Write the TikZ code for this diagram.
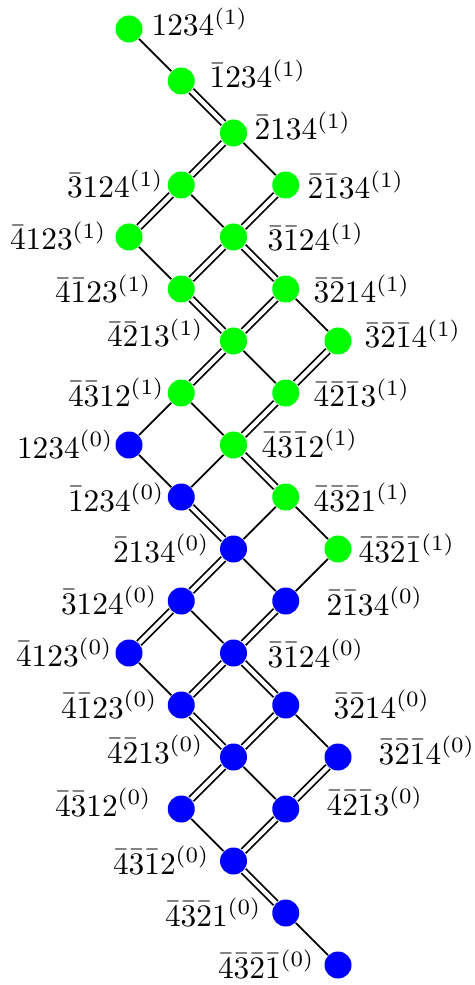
\documentclass[tikz,border=0pt]{standalone}
\newcommand{\lbl}[1]{\scalebox{1.045}{$#1$}}
\begin{document}
\begin{tikzpicture}[x=0.333333pt,y=-0.333333pt,
  gn/.style={circle,fill=green,minimum size=9pt,inner sep=0pt},
  bn/.style={circle,fill=blue,minimum size=9pt,inner sep=0pt},
  lw/.style={anchor=base west,inner sep=0pt},
  le/.style={anchor=base east,inner sep=0pt},
  one/.style={draw=black,line width=0.6pt},
  two/.style={draw=black,line width=0.6pt,double=white,double distance=1.4pt}]
\useasboundingbox (0,0) rectangle (474,985);
% nodes
\node[gn] (a1) at (129,29) {};
\node[gn] (a2) at (181.25,81) {};
\node[gn] (a3) at (233.5,133) {};
\node[gn] (a4) at (181.25,185) {};
\node[gn] (b4) at (285.75,185) {};
\node[gn] (a5) at (129,237) {};
\node[gn] (b5) at (233.5,237) {};
\node[gn] (a6) at (181.25,289) {};
\node[gn] (b6) at (285.75,289) {};
\node[gn] (a7) at (233.5,341) {};
\node[gn] (b7) at (338,341) {};
\node[gn] (a8) at (181.25,393) {};
\node[gn] (b8) at (285.75,393) {};
\node[bn] (z9) at (129,445) {};
\node[gn] (a9) at (233.5,445) {};
\node[bn] (z10) at (181.25,497) {};
\node[gn] (a10) at (285.75,497) {};
\node[bn] (z11) at (233.5,549) {};
\node[gn] (a11) at (338,549) {};
\node[bn] (z12) at (181.25,601) {};
\node[bn] (y12) at (285.75,601) {};
\node[bn] (z13) at (129,653) {};
\node[bn] (y13) at (233.5,653) {};
\node[bn] (z14) at (181.25,705) {};
\node[bn] (y14) at (285.75,705) {};
\node[bn] (z15) at (233.5,757) {};
\node[bn] (y15) at (338,757) {};
\node[bn] (z16) at (181.25,809) {};
\node[bn] (y16) at (285.75,809) {};
\node[bn] (z17) at (233.5,861) {};
\node[bn] (z18) at (285.75,913) {};
\node[bn] (z19) at (338,965) {};
% labels
\node[lw] (la1) at (151,36) {\lbl{1234^{(1)}}};
\node[lw] (la2) at (209,88) {\lbl{\bar{1}234^{(1)}}};
\node[lw] (la3) at (254,140) {\lbl{\bar{2}134^{(1)}}};
\node[le] (la4) at (164,198) {\lbl{\bar{3}124^{(1)}}};
\node[lw] (lb4) at (307,199) {\lbl{\bar{2}\bar{1}34^{(1)}}};
\node[le] (la5) at (107,250) {\lbl{\bar{4}123^{(1)}}};
\node[lw] (lb5) at (267,251) {\lbl{\bar{3}\bar{1}24^{(1)}}};
\node[le] (la6) at (152,303) {\lbl{\bar{4}\bar{1}23^{(1)}}};
\node[lw] (lb6) at (313,303) {\lbl{\bar{3}\bar{2}14^{(1)}}};
\node[le] (la7) at (204,347) {\lbl{\bar{4}\bar{2}13^{(1)}}};
\node[lw] (lb7) at (364,348) {\lbl{\bar{3}\bar{2}\bar{1}4^{(1)}}};
\node[le] (la8) at (165,406) {\lbl{\bar{4}\bar{3}12^{(1)}}};
\node[lw] (lb8) at (313,407) {\lbl{\bar{4}\bar{2}\bar{1}3^{(1)}}};
\node[le] (lz9) at (114,458) {\lbl{1234^{(0)}}};
\node[lw] (la9) at (261,457) {\lbl{\bar{4}\bar{3}\bar{1}2^{(1)}}};
\node[le] (lz10) at (165,511) {\lbl{\bar{1}234^{(0)}}};
\node[lw] (la10) at (313,511) {\lbl{\bar{4}\bar{3}\bar{2}1^{(1)}}};
\node[le] (lz11) at (210,562) {\lbl{\bar{2}134^{(0)}}};
\node[lw] (la11) at (358,562) {\lbl{\bar{4}\bar{3}\bar{2}\bar{1}^{(1)}}};
\node[le] (lz12) at (158,614) {\lbl{\bar{3}124^{(0)}}};
\node[lw] (ly12) at (326,615) {\lbl{\bar{2}\bar{1}34^{(0)}}};
\node[le] (lz13) at (113,666) {\lbl{\bar{4}123^{(0)}}};
\node[lw] (ly13) at (267,667) {\lbl{\bar{3}\bar{1}24^{(0)}}};
\node[le] (lz14) at (158,718) {\lbl{\bar{4}\bar{1}23^{(0)}}};
\node[lw] (ly14) at (333,718) {\lbl{\bar{3}\bar{2}14^{(0)}}};
\node[le] (lz15) at (204,763) {\lbl{\bar{4}\bar{2}13^{(0)}}};
\node[lw] (ly15) at (378,764) {\lbl{\bar{3}\bar{2}\bar{1}4^{(0)}}};
\node[le] (lz16) at (152,816) {\lbl{\bar{4}\bar{3}12^{(0)}}};
\node[lw] (ly16) at (326,815) {\lbl{\bar{4}\bar{2}\bar{1}3^{(0)}}};
\node[le] (lz17) at (210,874) {\lbl{\bar{4}\bar{3}\bar{1}2^{(0)}}};
\node[le] (lz18) at (262,926) {\lbl{\bar{4}\bar{3}\bar{2}1^{(0)}}};
\node[le] (lz19) at (315,978) {\lbl{\bar{4}\bar{3}\bar{2}\bar{1}^{(0)}}};
% single edges
\foreach \p/\q in {a1/a2,a3/b4,a4/b5,a5/a6,b6/b7,a7/b8,a8/z9,a8/a9,a9/z10,z9/z10,a10/z11,a10/a11,a11/y12,z11/y12,z12/y13,z13/z14,y14/y15,z15/y16,z16/z17,z18/z19}
  \path[one] (\p) -- (\q);
% double edges
\foreach \p/\q in {a2/a3,a3/a4,a4/a5,b4/b5,b5/a6,b5/b6,a6/a7,b6/a7,a7/a8,b7/b8,b8/a9,a9/a10,z10/z11,z11/z12,z12/z13,y12/y13,y13/z14,y13/y14,z14/z15,y14/z15,z15/z16,y15/y16,y16/z17,z17/z18}
  \path[two] (\p) -- (\q);
\end{tikzpicture}
\end{document}
